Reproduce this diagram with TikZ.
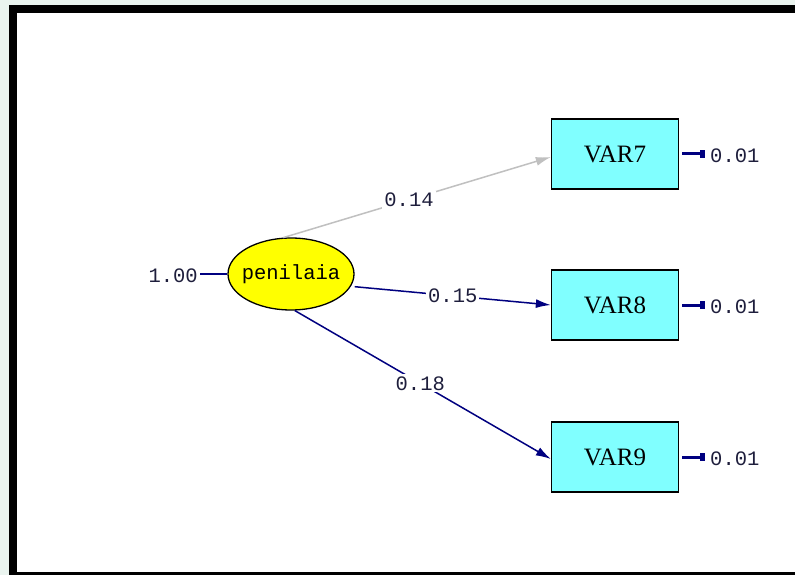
\documentclass[tikz,border=0pt]{standalone}
\usepackage{fontspec}
\setmainfont{Liberation Serif}
\setmonofont{Liberation Mono}
\usepackage{tikz}
\usepackage{xcolor}
\usetikzlibrary{positioning, arrows.meta, shapes}

\definecolor{pathblue}{RGB}{0,0,128}
\definecolor{pathgray}{RGB}{192,192,192}
\definecolor{boxcyan}{RGB}{128,255,255}
\definecolor{latyellow}{RGB}{255,255,0}
\definecolor{bgmint}{RGB}{234,244,239}
\definecolor{numtext}{RGB}{30,30,60}

\begin{document}
\begin{tikzpicture}[
            x=1pt, y=-1pt,
            observed/.style={rectangle, draw, line width=1.3pt, fill=boxcyan, minimum width=127pt, minimum height=70pt, inner sep=0pt, font=\fontsize{25}{28}\selectfont},
            latent/.style={ellipse, draw, line width=1.3pt, fill=latyellow, minimum width=126pt, minimum height=72pt, inner sep=-7pt, font=\ttfamily\fontsize{20.5}{24}\selectfont},
            coef/.style={fill=white, inner sep=2pt, text=numtext, font=\ttfamily\fontsize{20.5}{24}\selectfont},
            loading/.style={pathblue, line width=1.5pt, -{Latex[length=15pt,width=9pt]}},
            errarrow/.style={pathblue, line width=3pt, {Rectangle[length=5pt,width=8pt]}-},
        ]
            % frame
            \useasboundingbox (0,0) rectangle (795,575);
            \fill[bgmint] (0,0) rectangle (795,575);
            \fill[black] (9,5) rectangle (795,575);
            \fill[white] (17,13) rectangle (795,572);

            % latent variable
            \node[latent] (penilaia) at (291,274) {penilaia};
            \node[coef, anchor=east] (varlat) at (200,276) {1.00};
            \draw[pathblue, line width=1.5pt] (varlat.east |- penilaia.west) -- (penilaia.west);

            % indicators
            \node[observed] (VAR7) at (615,154) {VAR7};
            \node[observed] (VAR8) at (615,305) {VAR8};
            \node[observed] (VAR9) at (615,457) {VAR9};

            % loadings
            \draw[loading, pathgray] (penilaia.102) -- node[coef, pos=0.47] {0.14} (VAR7.west |- 0,157);
            \draw[loading] ([xshift=4pt]penilaia.-12) -- node[coef, pos=0.5] {0.15} (VAR8.west);
            \draw[loading] (penilaia.-84) -- node[coef, pos=0.49] {0.18} (VAR9.west |- 0,459);

            % error variances
            \foreach \v/\y in {7/154, 8/305, 9/457} {
                \node[coef, anchor=west, inner sep=0pt] (e\v) at (710,\y+2) {0.01};
                \coordinate (s\v) at (705,\y);
                \draw[errarrow] (s\v) -- ([xshift=3pt]VAR\v.east);
            }
        \end{tikzpicture}
\end{document}
